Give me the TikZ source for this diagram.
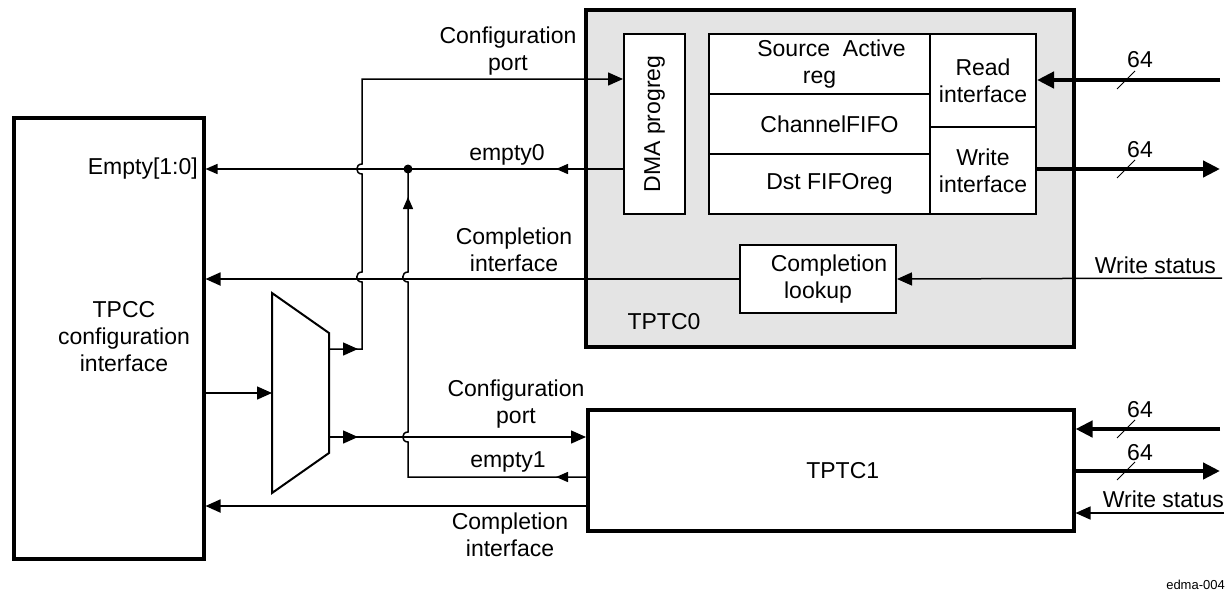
\documentclass[tikz,border=0pt]{standalone}
\usepackage{fontspec}
\setmainfont{Liberation Sans}
\usetikzlibrary{arrows.meta,decorations.markings}

\definecolor{tcgray}{HTML}{E4E4E4}

\tikzset{
  blk/.style={draw,line width=3.5pt,inner sep=0pt,anchor=north west},
  reg/.style={draw,line width=2pt,fill=white,inner sep=0pt,anchor=north west,align=center},
  sig/.style={line width=1.5pt},
  cpl/.style={line width=1.8pt},
  bus/.style={line width=4.5pt},
  lbl/.style={align=center,inner sep=0pt},
  tipat/.style={postaction={decorate,decoration={markings,
    mark=at position #1 with {\arrow{Triangle[length=15pt,width=13pt]}}}}},
  smalltipat/.style={postaction={decorate,decoration={markings,
    mark=at position #1 with {\arrow{Triangle[length=12pt,width=10pt]}}}}}
}

\begin{document}
\begin{tikzpicture}[x=1pt,y=-1pt,font=\fontsize{23}{27}\selectfont,
  >={Triangle[length=15pt,width=13pt]}]
\useasboundingbox (0,0) rectangle (1230,590);

% TPCC
\node[blk,minimum width=190pt,minimum height=441pt] (tpcc) at (12,116) {};
\node[lbl] (tpcctxt) at (124,337)
{TPCC\\configuration\\interface};

\node[lbl,anchor=east] (emptylbl) at (198,169)
{Empty[1:0]};

% Mux
\coordinate (muxtl) at (272,293);
\coordinate (muxtr) at (329,333);
\coordinate (muxbr) at (329,453);
\coordinate (muxbl) at (272,493);
\draw[line width=2pt] (muxtl) -- (muxtr) -- (muxbr) -- (muxbl) -- cycle;

\coordinate (muxin) at (272,393);
\coordinate (muxa) at (329,349);
\coordinate (muxb) at (329,437);

% TPTC0
\node[blk,fill=tcgray,minimum width=488pt,minimum height=337pt] (tptc0) at (584,8) {};
\node[lbl] (tptc0lbl) at (664,322)
{TPTC0};

\node[reg,minimum width=61pt,minimum height=180pt] (dma) at (623,33) {};
\node[lbl,rotate=90] (dmalbl) at (dma.center)
{DMA progreg};

\node[reg,minimum width=221pt,minimum height=60pt] (srcreg) at (708,33)
{\hspace*{24pt}Source\ \ Active\\reg};
\node[reg,minimum width=221pt,minimum height=60pt] (chfifo) at (708,93)
{\hspace*{20pt}ChannelFIFO};
\node[reg,minimum width=221pt,minimum height=60pt] (dstfifo) at (708,153)
{\hspace*{20pt}Dst FIFOreg};
\node[reg,minimum width=106pt,minimum height=93pt] (rdif) at (929,33)
{Read\\interface};
\node[reg,minimum width=106pt,minimum height=87pt] (wrif) at (929,126)
{Write\\interface};

\node[reg,minimum width=156pt,minimum height=68pt] (lookup) at (739,244)
{\hspace*{22pt}Completion\\lookup};

% TPTC1
\node[blk,minimum width=486pt,minimum height=121pt] (tptc1) at (586,408)
{\hspace*{24pt}\raisebox{-5pt}{TPTC1}};

% junction
\coordinate (jn) at (408,169);
\fill (jn) circle (4.5);

% TPCC -> mux
\draw[sig,->] (tpcc.east |- muxin) -- (muxin);

% mux -> TPTC0 configuration port
\coordinate (cp0) at (362,79);
\draw[sig,->,tipat=29pt] (muxa) -- (362,349) -- (362,282)
  .. controls +(-7,0) and +(-7,0) .. (362,272) -- (362,174)
  .. controls +(-7,0) and +(-7,0) .. (362,164) -- (cp0) -- (cp0 -| dma.west);
\node[lbl] (cp0lbl) at (508,51)
{Configuration\\port};

% empty0
\draw[sig,-{Triangle[length=12pt,width=10pt]},smalltipat=67pt]
  (dma.west |- jn) -- (tpcc.east |- jn);
\node[lbl] (e0lbl) at (507,155)
{empty0};

% empty1
\coordinate (e1) at (408,477);
\draw[sig,smalltipat=30pt,smalltipat=-28pt] (tptc1.west |- e1) -- (e1) -- (408,442)
  .. controls +(-7,0) and +(-7,0) .. (408,432) -- (408,282)
  .. controls +(-7,0) and +(-7,0) .. (408,272) -- (jn);
\node[lbl] (e1lbl) at (508,462)
{empty1};

% completion TPTC0
\draw[cpl,->] (lookup.west) -- (tpcc.east |- lookup.west);
\node[lbl] (c0lbl) at (514,250)
{Completion\\interface};

% mux -> TPTC1 configuration port
\draw[sig,->,tipat=29pt] (muxb) -- (tptc1.west |- muxb);
\node[lbl] (cp1lbl) at (516,404)
{Configuration\\port};

% completion TPTC1
\coordinate (c1) at (586,506);
\draw[cpl,->] (c1) -- (tpcc.east |- c1);
\node[lbl] (c1lbl) at (510,535)
{Completion\\interface};

% right side TPTC0
\coordinate (rd0) at (1220,80);
\draw[bus,->,>={Triangle[length=17pt,width=16pt]}] (rd0) -- (rd0 -| rdif.east);
\draw[line width=1pt] (1117,89) -- (1135,71);
\node[lbl] (rd0w) at (1140,60)
{64};

\coordinate (wr0) at (1220,169);
\draw[bus,->,>={Triangle[length=17pt,width=16pt]}] (wrif.east |- wr0) -- (wr0);
\draw[line width=1pt] (1117,178) -- (1135,160);
\node[lbl] (wr0w) at (1140,150)
{64};

\coordinate (ws0) at (1222,278);
\draw[sig,->] (ws0) -- (lookup.east);
\node[lbl,anchor=east] (ws0lbl) at (1216,265)
{Write status};

% right side TPTC1
\coordinate (rd1) at (1220,429);
\draw[bus,->,>={Triangle[length=17pt,width=16pt]}] (rd1) -- (rd1 -| tptc1.east);
\draw[line width=1pt] (1117,438) -- (1135,420);
\node[lbl] (rd1w) at (1140,410)
{64};

\coordinate (wr1) at (1220,471);
\draw[bus,->,>={Triangle[length=17pt,width=16pt]}] (tptc1.east |- wr1) -- (wr1);
\draw[line width=1pt] (1117,480) -- (1135,462);
\node[lbl] (wr1w) at (1140,453)
{64};

\coordinate (ws1) at (1224,513);
\draw[sig,->] (ws1) -- (ws1 -| tptc1.east);
\node[lbl,anchor=east] (ws1lbl) at (1224,499)
{Write status};

\node[lbl,anchor=east,font=\fontsize{13}{15}\selectfont] (figid) at (1225,585)
{edma-004};

\end{tikzpicture}
\end{document}
